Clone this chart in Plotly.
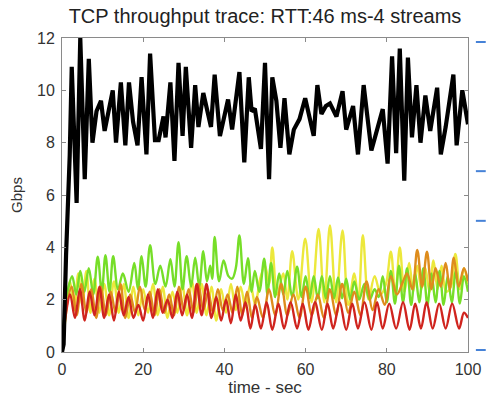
import plotly.graph_objects as go

# ---------------- data ----------------
black_t = [0, 0.4, 1.0, 1.9, 2.4, 3.6, 4.5, 5.6, 6.6, 7.5,
           8.5, 9.6, 10.5, 11.5, 12.5, 13.3, 14.5, 15.6, 16.5, 17.5,
           18.6, 19.6, 20.8, 21.7, 22.9, 23.8, 25.0, 25.5, 26.7, 27.7,
           28.7, 29.7, 30.5, 31.8, 32.8, 33.6, 34.8, 36.7, 37.6, 38.9,
           40.9, 41.9, 43.7, 44.9, 46.0, 46.7, 47.5, 49.0, 50.0, 51.0,
           51.8, 52.8, 53.8, 54.8, 56.0, 57.1, 58.5, 59.9, 62.0, 62.9,
           63.9, 65.0, 66.0, 67.6, 69.1, 70.0, 71.7, 72.9, 74.3, 76.2,
           79.0, 80.2, 81.3, 82.3, 83.2, 84.3, 85.2, 86.2, 87.3, 88.3,
           89.5, 90.7, 92.4, 93.3, 94.5, 96.4, 97.2, 98.6, 100]
black_v = [0, 0.3, 3.7, 7.5, 10.9, 5.7, 12.0, 6.6, 11.2, 8.0,
           9.2, 9.6, 8.45, 9.3, 10.0, 8.0, 10.3, 7.9, 10.3, 8.8,
           7.9, 10.5, 7.55, 11.4, 8.1, 8.1, 9.0, 8.2, 10.3, 7.3,
           11.05, 8.26, 10.9, 7.8, 10.2, 8.6, 9.9, 8.6, 10.6, 8.25,
           9.65, 8.5, 10.7, 7.25, 10.5, 9.2, 9.3, 7.76, 11.05, 6.6,
           10.5, 9.6, 7.8, 9.7, 7.55, 8.5, 8.9, 9.7, 8.26, 10.2,
           9.1, 9.4, 9.5, 9.0, 9.97, 8.5, 9.4, 7.55, 10.2, 7.7,
           9.28, 7.2, 11.3, 7.6, 11.6, 6.55, 11.25, 8.2, 10.2, 8.0,
           9.8, 8.45, 10.1, 7.55, 8.6, 10.6, 7.9, 10.0, 8.7]

green_t = [0, 0.7, 1.5, 2.5, 3.5, 4.5, 5.5, 6.6, 7.7, 8.8,
           9.8, 10.7, 11.7, 12.6, 13.8, 15.0, 16.4, 17.8, 18.7, 19.6,
           20.6, 21.7, 23.0, 24.2, 25.5, 26.7, 27.7, 28.7, 29.7, 30.7,
           31.8, 32.8, 33.8, 34.8, 35.7, 36.5, 37.0, 37.6, 38.7, 39.8,
           41.0, 41.9, 42.8, 43.7, 44.8, 45.8, 46.7, 47.5, 48.6, 49.8,
           50.6, 51.5, 52.5, 53.5, 54.5, 55.5, 56.7, 57.9, 59.0, 60.0,
           61, 62, 63, 64, 65, 66, 67, 68, 69, 70,
           71, 72, 73.2, 74.5, 75.8, 77, 78, 79, 80, 81,
           82, 83, 84, 85, 86, 87, 88, 89, 90, 91,
           92, 93, 94, 95, 96, 97, 98, 99, 100]
green_v = [0, 1.6, 2.4, 2.9, 2.2, 3.1, 2.3, 3.2, 2.2, 3.64,
           2.3, 3.7, 2.3, 3.66, 2.4, 3.0, 2.3, 3.4, 2.4, 3.66,
           2.5, 4.08, 2.6, 3.3, 2.5, 3.55, 2.5, 4.2, 2.4, 3.66,
           2.5, 3.6, 2.5, 3.85, 2.7, 3.3, 2.8, 4.4, 2.7, 3.5,
           2.9, 2.8, 3.2, 4.45, 2.6, 3.58, 2.3, 3.1, 2.3, 3.57,
           2.2, 3.4, 2.1, 3.0, 2.2, 3.1, 2.1, 3.26, 2.1, 2.9,
           2.05, 2.9, 2.05, 2.9, 2.05, 2.9, 2.05, 2.85, 2.05, 2.8,
           2.0, 2.7, 2.0, 2.6, 2.0, 2.4, 2.1, 2.9, 1.9, 3.1,
           1.85, 3.3, 1.9, 3.2, 1.8, 3.0, 1.9, 3.2, 1.8, 3.0,
           1.9, 3.1, 1.8, 2.9, 1.9, 3.1, 1.85, 2.9, 2.3]

yellow_t = [0, 1, 2, 3, 4, 5, 6, 7, 8, 9.2,
            10.4, 11.6, 12.8, 14.0, 15.2, 16.4, 17.6, 18.8, 20.0, 21.2,
            22.4, 23.6, 24.8, 26.0, 27.2, 28.4, 29.6, 30.8, 32.0, 33.2,
            34.4, 35.6, 36.8, 38.0, 39.2, 40.4, 41.6, 42.8, 44.0, 45.2,
            46.4, 47.6, 48.8, 50.0, 51.0, 51.8, 53.0, 54.5, 55.5, 56.7,
            58.2, 59.9, 61.5, 63.2, 64.6, 66.0, 67.5, 69.1, 70.5, 72.0,
            73.0, 74.1, 75.5, 77.0, 78.5, 79.8, 81.0, 82.1, 83.2, 84.3,
            85.5, 86.5, 87.5, 88.5, 89.5, 90.5, 91.5, 92.5, 93.5, 94.6,
            95.8, 96.9, 98.0, 99.0, 100]
yellow_v = [0, 1.5, 2.7, 1.6, 3.0, 1.8, 3.1, 1.5, 2.8, 1.5,
            2.6, 1.4, 2.7, 1.5, 2.6, 1.3, 2.5, 1.4, 2.4, 1.5,
            2.6, 1.4, 2.5, 1.3, 2.3, 1.5, 2.6, 1.4, 2.7, 1.5,
            2.6, 1.4, 2.5, 1.2, 2.4, 1.5, 2.6, 1.6, 2.5, 1.7,
            2.6, 1.8, 2.8, 3.3, 2.6, 4.0, 2.2, 3.0, 2.0, 3.85,
            2.0, 4.33, 1.9, 4.7, 1.9, 4.84, 1.9, 4.65, 1.8, 3.0,
            2.0, 4.46, 2.0, 2.9, 2.2, 2.6, 3.83, 2.2, 4.0, 2.3,
            3.4, 2.3, 3.3, 2.4, 3.2, 2.3, 3.5, 2.4, 3.3, 2.3,
            2.5, 3.75, 2.4, 3.2, 2.6]

orange_t = [0, 1.2, 2.4, 3.6, 4.8, 6.0, 7.2, 8.4, 9.6, 10.8,
            12.0, 13.2, 14.4, 15.6, 16.8, 18.0, 19.2, 20.4, 21.6, 22.8,
            24.0, 25.2, 26.4, 27.6, 28.8, 30.0, 31.2, 32.4, 33.6, 34.8,
            36.0, 37.2, 38.4, 39.6, 40.8, 42.0, 43.2, 44.4, 45.6, 46.8,
            48.0, 49.5, 51.0, 52.5, 54.0, 55.5, 57.0, 58.5, 60.0, 61.5,
            63.0, 64.5, 66.0, 67.5, 69.0, 70.5, 72.0, 73.5, 75.0, 76.5,
            78.0, 79.5, 81.0, 82.5, 84.0, 85.0, 86.3, 87.5, 88.7, 89.9,
            91.0, 92.0, 93.3, 94.5, 95.5, 96.5, 97.7, 99.0, 100]
orange_v = [0, 1.8, 2.5, 1.4, 2.6, 1.5, 2.4, 1.3, 2.5, 1.4,
            2.3, 1.5, 2.6, 1.3, 2.2, 1.5, 2.5, 1.6, 2.3, 1.4,
            2.4, 1.5, 2.2, 1.4, 2.5, 1.6, 2.4, 1.5, 2.6, 1.6,
            2.3, 1.5, 2.4, 1.6, 2.2, 1.5, 2.5, 1.4, 2.3, 1.3,
            2.1, 1.3, 2.4, 1.4, 2.6, 1.4, 2.2, 1.3, 2.5, 1.4,
            2.2, 1.3, 2.4, 1.4, 2.6, 1.5, 2.3, 1.4, 2.7, 1.6,
            2.4, 1.8, 2.9, 2.2, 2.7, 3.0, 2.4, 3.9, 2.5, 3.83,
            2.4, 3.2, 2.5, 3.4, 2.4, 3.6, 2.5, 3.2, 2.7]

red_t = [0, 1.0, 2.0, 3.2, 4.4, 5.6, 6.8, 8.0, 9.2, 10.4,
         11.6, 12.8, 14.0, 15.2, 16.4, 17.6, 18.8, 20.0, 21.2, 22.4,
         23.6, 24.8, 26.0, 27.2, 28.4, 29.6, 30.8, 32.0, 33.2, 34.4,
         35.6, 36.8, 38.0, 39.2, 40.4, 41.6, 42.8, 44.0, 45.2, 46.4,
         47.6, 49.0, 50.4, 51.8, 53.3, 54.7, 56.3, 57.9, 59.3, 60.7,
         62.3, 64.0, 65.4, 66.8, 68.4, 70.0, 71.5, 72.9, 74.5, 76.2,
         77.6, 79.0, 80.6, 82.3, 84.0, 85.6, 87.0, 88.4, 89.8, 91.3,
         92.9, 94.5, 96.1, 97.8, 99.0, 100]
red_v = [0, 1.5, 2.2, 1.3, 2.4, 1.2, 2.3, 1.4, 2.5, 1.3,
         2.2, 1.2, 2.3, 1.4, 2.1, 1.3, 1.8, 1.2, 2.2, 1.3,
         2.4, 1.5, 2.0, 1.3, 2.3, 1.4, 2.2, 1.3, 2.6, 1.4,
         2.6, 1.3, 2.1, 1.2, 2.0, 1.1, 2.2, 1.2, 1.9, 0.9,
         1.8, 0.9, 1.9, 0.85, 1.85, 0.9, 1.9, 0.9, 1.85, 0.85,
         1.9, 0.85, 1.85, 0.9, 1.9, 0.85, 1.85, 0.9, 1.9, 0.85,
         1.9, 0.9, 1.85, 0.9, 1.9, 0.85, 1.85, 0.9, 1.9, 0.9,
         1.85, 0.9, 1.85, 0.9, 1.5, 1.3]

x_ticks = [0, 20, 40, 60, 80, 100]
y_ticks = [0, 2, 4, 6, 8, 10, 12]

for a, b in [(black_t, black_v), (green_t, green_v), (yellow_t, yellow_v),
             (orange_t, orange_v), (red_t, red_v)]:
    assert len(a) == len(b), (len(a), len(b))

# ---------------- figure ----------------
W, H = 493, 402
L, R, T, B = 62, 19, 38, 48
pw, ph = W - L - R, H - T - B

fig = go.Figure()
series = [
    (yellow_t, yellow_v, "rgb(236,232,60)", 2.4),
    (green_t, green_v, "rgb(118,222,40)", 2.4),
    (orange_t, orange_v, "rgb(222,140,28)", 2.4),
    (red_t, red_v, "rgb(208,36,30)", 2.4),
]
for t, v, c, w in series:
    fig.add_trace(go.Scatter(x=t, y=v, mode="lines",
                             line=dict(color=c, width=w, shape="spline", smoothing=1.0),
                             showlegend=False, hoverinfo="skip"))
fig.add_trace(go.Scatter(x=black_t, y=black_v, mode="lines",
                         line=dict(color="black", width=4.2),
                         showlegend=False, hoverinfo="skip"))

font = "Liberation Sans, Arial, Helvetica, sans-serif"
axcommon = dict(showgrid=False, zeroline=False, showline=True, linecolor="#8a8a8a",
                linewidth=1, mirror="ticks", ticks="inside", ticklen=4,
                tickcolor="#8a8a8a", tickfont=dict(family=font, size=16, color="#333"))

fig.update_layout(
    width=W, height=H,
    margin=dict(l=L, r=R, t=T, b=B, pad=0),
    paper_bgcolor="white", plot_bgcolor="white",
    xaxis=dict(range=[0, 100], tickvals=x_ticks, ticklabelstandoff=3,
               title=dict(text="time - sec", font=dict(family=font, size=17, color="#333"), standoff=0),
               **axcommon),
    yaxis=dict(range=[0, 12], tickvals=y_ticks, ticklabelstandoff=3,
               title=dict(text="Gbps", font=dict(family=font, size=15, color="#333"), standoff=10),
               **axcommon),
    title=dict(text="TCP throughput trace: RTT:46 ms-4 streams",
               font=dict(family=font, size=20, color="#222"),
               x=0.5, xref="paper", xanchor="center", y=1 - 16 / H, yanchor="middle"),
)

# small blue dashes at right edge
for py in [42, 172, 222, 352]:
    fig.add_shape(type="line", xref="paper", yref="paper",
                  x0=(482 - L) / pw, x1=(492 - L) / pw,
                  y0=(H - B - py) / ph, y1=(H - B - py) / ph,
                  line=dict(color="rgb(70,130,215)", width=2))

fig.write_html("out.html")
